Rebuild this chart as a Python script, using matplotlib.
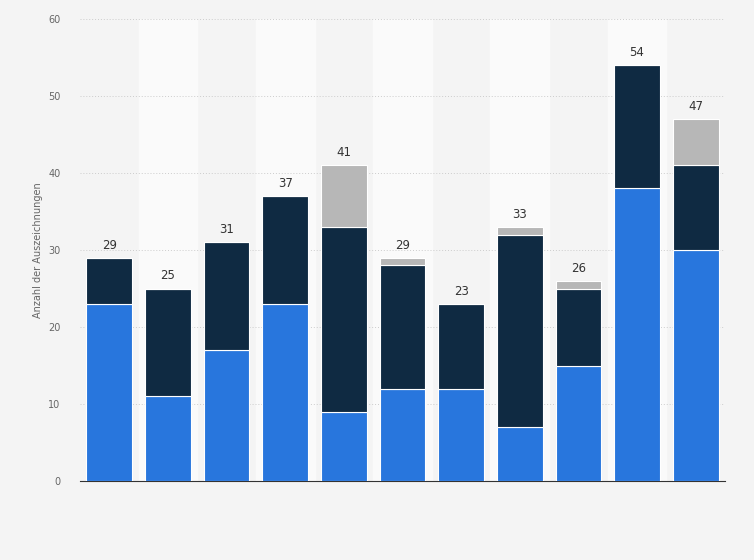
import numpy as np
import matplotlib.pyplot as plt

blue = [23, 11, 17, 23, 9, 12, 12, 7, 15, 38, 30]
navy = [6, 14, 14, 14, 24, 16, 11, 25, 10, 16, 11]
grey = [0, 0, 0, 0, 8, 1, 0, 1, 1, 0, 6]
totals = [29, 25, 31, 37, 41, 29, 23, 33, 26, 54, 47]

fig = plt.figure(figsize=(7.54, 5.6), dpi=100, facecolor='#f4f4f4')
ax = fig.add_axes([80 / 754, 79 / 560, 645 / 754, 462 / 560])
ax.set_facecolor('#f4f4f4')

x = np.arange(len(blue))
for i in x:
    if i % 2 == 1:
        ax.axvspan(i - 0.5, i + 0.5, color='#fafafa', zorder=0)

b = np.array(blue)
n = np.array(navy)
ax.bar(x, b, 0.78, color='#2876dd', edgecolor='white', linewidth=0.8, zorder=3)
ax.bar(x, n, 0.78, bottom=b, color='#0f2a42', edgecolor='white', linewidth=0.8, zorder=3)
ax.bar(x, grey, 0.78, bottom=b + n, color='#b7b7b7', edgecolor='white', linewidth=0.8, zorder=3)
for i, t in zip(x, totals):
    ax.text(i, t + 0.8, str(t), ha='center', va='bottom', fontsize=8.5, color='#333333')

ax.set_xlim(-0.5, len(blue) - 0.5)
ax.set_ylim(0, 60)
ax.set_yticks(range(0, 61, 10))
ax.tick_params(axis='y', labelsize=7, colors='#666666', length=0, pad=14)
ax.set_xticks([])
ax.grid(axis='y', linestyle=(0, (1, 2)), color='#cccccc', linewidth=0.7, zorder=1)
for s in ['top', 'right', 'left']:
    ax.spines[s].set_visible(False)
ax.spines['bottom'].set_color('#333333')
ax.set_ylabel('Anzahl der Auszeichnungen', fontsize=7, color='#666666')

plt.savefig('out.png', dpi=100, facecolor=fig.get_facecolor())
